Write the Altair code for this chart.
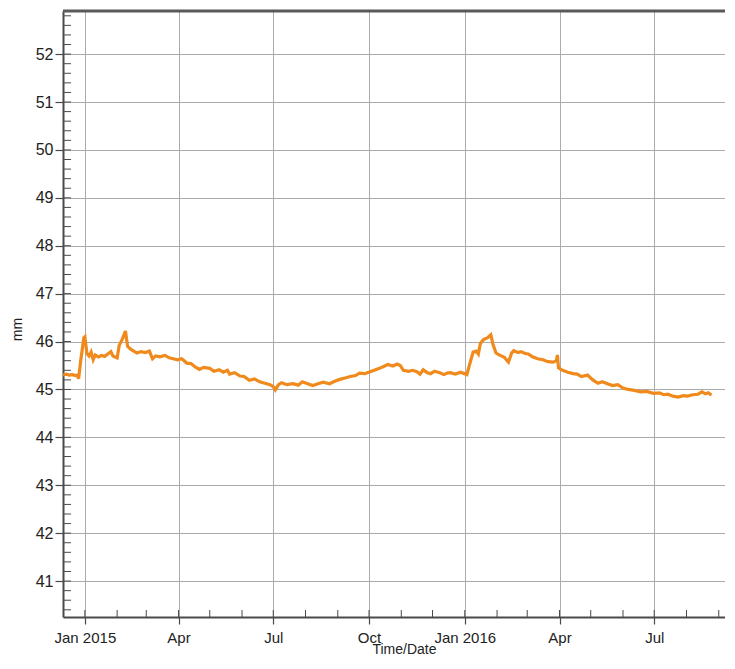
import altair as alt
import pandas as pd

# ---- data ----
dates = [
    "2014-12-11", "2014-12-14", "2014-12-17", "2014-12-20", "2014-12-23", "2014-12-25",
    "2014-12-26", "2014-12-28", "2014-12-31", "2015-01-01", "2015-01-03", "2015-01-05",
    "2015-01-07", "2015-01-09", "2015-01-11", "2015-01-14", "2015-01-17", "2015-01-20",
    "2015-01-23", "2015-01-26", "2015-01-28", "2015-02-01", "2015-02-03", "2015-02-06",
    "2015-02-09", "2015-02-11", "2015-02-14", "2015-02-17", "2015-02-20", "2015-02-24",
    "2015-02-28", "2015-03-04", "2015-03-07", "2015-03-10", "2015-03-14", "2015-03-19",
    "2015-03-23", "2015-03-27", "2015-03-31", "2015-04-04", "2015-04-09", "2015-04-13",
    "2015-04-17", "2015-04-21", "2015-04-25", "2015-05-01", "2015-05-05", "2015-05-10",
    "2015-05-14", "2015-05-18", "2015-05-20", "2015-05-25", "2015-05-30", "2015-06-03",
    "2015-06-08", "2015-06-13", "2015-06-18", "2015-06-23", "2015-06-28", "2015-07-01",
    "2015-07-03", "2015-07-06", "2015-07-09", "2015-07-14", "2015-07-20", "2015-07-25",
    "2015-07-29", "2015-08-03", "2015-08-08", "2015-08-13", "2015-08-18", "2015-08-24",
    "2015-08-29", "2015-09-03", "2015-09-08", "2015-09-13", "2015-09-18", "2015-09-22",
    "2015-09-27", "2015-10-02", "2015-10-06", "2015-10-11", "2015-10-15", "2015-10-19",
    "2015-10-24", "2015-10-28", "2015-10-31", "2015-11-03", "2015-11-08", "2015-11-12",
    "2015-11-16", "2015-11-19", "2015-11-22", "2015-11-26", "2015-11-29", "2015-12-03",
    "2015-12-08", "2015-12-12", "2015-12-15", "2015-12-18", "2015-12-23", "2015-12-28",
    "2016-01-03", "2016-01-06", "2016-01-09", "2016-01-12", "2016-01-14", "2016-01-16",
    "2016-01-19", "2016-01-23", "2016-01-26", "2016-01-28", "2016-01-31", "2016-02-03",
    "2016-02-08", "2016-02-12", "2016-02-15", "2016-02-17", "2016-02-21", "2016-02-24",
    "2016-02-28", "2016-03-02", "2016-03-06", "2016-03-11", "2016-03-16", "2016-03-21",
    "2016-03-26", "2016-03-29", "2016-03-30", "2016-03-31", "2016-04-04", "2016-04-09",
    "2016-04-14", "2016-04-18", "2016-04-22", "2016-04-28", "2016-05-03", "2016-05-08",
    "2016-05-12", "2016-05-17", "2016-05-22", "2016-05-27", "2016-06-01", "2016-06-06",
    "2016-06-12", "2016-06-18", "2016-06-24", "2016-06-30", "2016-07-06", "2016-07-10",
    "2016-07-14", "2016-07-19", "2016-07-24", "2016-07-29", "2016-08-02", "2016-08-07",
    "2016-08-12", "2016-08-16", "2016-08-19", "2016-08-22", "2016-08-25",
]
values = [
    45.30, 45.32, 45.30, 45.31, 45.29, 45.30,
    45.22, 45.60, 46.08, 46.10, 45.75, 45.70,
    45.78, 45.62, 45.72, 45.68, 45.71, 45.69,
    45.74, 45.79, 45.70, 45.66, 45.92, 46.05,
    46.22, 45.90, 45.84, 45.80, 45.76, 45.79,
    45.77, 45.80, 45.64, 45.70, 45.68, 45.71,
    45.66, 45.64, 45.62, 45.64, 45.55, 45.54,
    45.47, 45.42, 45.46, 45.44, 45.38, 45.41,
    45.36, 45.40, 45.32, 45.35, 45.28, 45.27,
    45.19, 45.22, 45.16, 45.13, 45.10, 45.06,
    44.99, 45.10, 45.14, 45.10, 45.12, 45.09,
    45.16, 45.12, 45.08, 45.12, 45.15, 45.12,
    45.17, 45.21, 45.24, 45.27, 45.29, 45.34,
    45.33, 45.37, 45.40, 45.44, 45.48, 45.52,
    45.49, 45.53, 45.50, 45.40, 45.38, 45.40,
    45.37, 45.32, 45.41, 45.35, 45.33, 45.38,
    45.35, 45.31, 45.34, 45.35, 45.32, 45.36,
    45.31, 45.55, 45.78, 45.80, 45.74, 45.96,
    46.04, 46.08, 46.14, 45.95, 45.76, 45.72,
    45.67, 45.57, 45.76, 45.81, 45.77, 45.79,
    45.75, 45.74, 45.68, 45.64, 45.62, 45.58,
    45.57, 45.60, 45.72, 45.45, 45.40, 45.36,
    45.33, 45.32, 45.27, 45.30, 45.20, 45.13,
    45.16, 45.12, 45.08, 45.10, 45.03, 45.00,
    44.98, 44.95, 44.96, 44.92, 44.93, 44.89,
    44.90, 44.86, 44.84, 44.87, 44.86, 44.89,
    44.90, 44.95, 44.91, 44.93, 44.88,
]

y_major_ticks = [41, 42, 43, 44, 45, 46, 47, 48, 49, 50, 51, 52]
y_minor_ticks = [round(40.4 + 0.2 * i, 1) for i in range(63)]
x_major_ticks = ["2015-01-01", "2015-04-01", "2015-07-01", "2015-10-01",
                 "2016-01-01", "2016-04-01", "2016-07-01"]
x_minor_ticks = ["2015-01-01", "2015-02-01", "2015-03-01", "2015-04-01", "2015-05-01",
                 "2015-06-01", "2015-07-01", "2015-08-01", "2015-09-01", "2015-10-01",
                 "2015-11-01", "2015-12-01", "2016-01-01", "2016-02-01", "2016-03-01",
                 "2016-04-01", "2016-05-01", "2016-06-01", "2016-07-01", "2016-08-01",
                 "2016-09-01"]
x_domain = ["2014-12-11", "2016-09-07"]
y_domain = [40.25, 52.9]

W, H = 662, 606
FONT = "Liberation Sans"
DARK = "#4a4a4a"

df = pd.DataFrame({"date": dates, "mm": values})
df_ymin = pd.DataFrame({"mm": y_minor_ticks})
df_xmin = pd.DataFrame({"date": x_minor_ticks})
df_top = pd.DataFrame({"k": [0]})


def dt(s):
    y, m, d = (int(p) for p in s.split("-"))
    return alt.DateTime(year=y, month=m, date=d, utc=True)


xscale = alt.Scale(type="utc", domain=[dt(s) for s in x_domain], nice=False)
yscale = alt.Scale(domain=y_domain, nice=False, zero=False)

x_axis = alt.Axis(
    orient="bottom",
    values=[dt(s) for s in x_major_ticks],
    labelExpr="utcmonth(datum.value) == 0 ? utcFormat(datum.value, '%b %Y') : utcFormat(datum.value, '%b')",
    tickSize=7,
    tickColor=DARK,
    tickWidth=1.2,
    domainColor=DARK,
    domainWidth=2,
    grid=True,
    gridColor="#ababab",
    gridWidth=1,
    labelFont=FONT,
    labelFontSize=15,
    labelColor="#222",
    labelPadding=6,
    title="Time/Date",
    titleFont=FONT,
    titleFontSize=14,
    titleFontWeight="normal",
    titleColor="#222",
    titleX=341,
    titleY=39,
    titleBaseline="bottom",
    titleAlign="center",
)

y_axis = alt.Axis(
    orient="left",
    values=y_major_ticks,
    tickSize=8,
    tickColor=DARK,
    tickWidth=1.2,
    domainColor=DARK,
    domainWidth=2,
    grid=True,
    gridColor="#ababab",
    gridWidth=1,
    labelFont=FONT,
    labelFontSize=16,
    labelColor="#222",
    labelPadding=2,
    title="mm",
    titleFont=FONT,
    titleFontSize=14,
    titleFontWeight="normal",
    titleColor="#222",
    titleX=-46,
    titleY=318,
    titleBaseline="middle",
    titleAlign="center",
    titleAngle=270,
)

line = alt.Chart(df).mark_line(color="#f08a1c", strokeWidth=3.2, clip=True).encode(
    x=alt.X("date:T", scale=xscale, axis=x_axis),
    y=alt.Y("mm:Q", scale=yscale, axis=y_axis),
)

ymin = alt.Chart(df_ymin).mark_rule(color=DARK, strokeWidth=1).encode(
    y=alt.Y("mm:Q", scale=yscale, axis=None),
    x=alt.value(0),
    x2=alt.value(8),
)

xmin = alt.Chart(df_xmin).mark_rule(color=DARK, strokeWidth=1).encode(
    x=alt.X("date:T", scale=xscale, axis=None),
    y=alt.value(H - 7),
    y2=alt.value(H),
)

top = alt.Chart(df_top).mark_rule(color="#5a5a5a", strokeWidth=3).encode(
    y=alt.value(0),
    x=alt.value(0),
    x2=alt.value(W),
)

chart = (
    alt.layer(line, ymin, xmin, top)
    .resolve_axis(x="independent", y="independent")
    .properties(
        width=W,
        height=H,
        autosize=alt.AutoSizeParams(type="none"),
        padding={"left": 55, "top": 3, "right": 0, "bottom": 40},
        background="white",
    )
    .configure_view(stroke="transparent", strokeWidth=0)
)

chart.save("out.html", embed_options={"renderer": "svg", "actions": False})
